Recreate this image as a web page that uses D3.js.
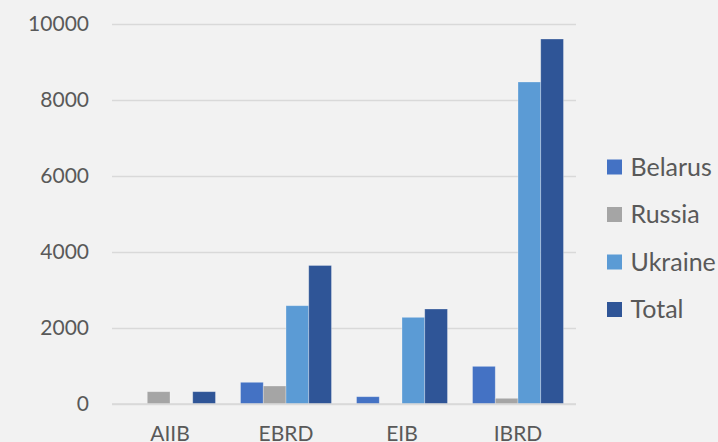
<!DOCTYPE html>
<html><head><meta charset="utf-8">
<script src="https://cdn.jsdelivr.net/npm/d3@7"></script>
<style>html,body{margin:0;padding:0;background:#F2F2F2;overflow:hidden}</style>
</head><body>
<svg id="c" width="718" height="442"></svg>
<script>
const categories = ["AIIB", "EBRD", "EIB", "IBRD"];
const seriesNames = ["Belarus", "Russia", "Ukraine", "Total"];
const belarus = [0, 571, 192, 991];
const russia = [324, 474, 0, 150];
const ukraine = [0, 2587, 2281, 8474];
const total = [324, 3645, 2500, 9605];
const yTicks = [0, 2000, 4000, 6000, 8000, 10000];
const colors = ["#4472C4", "#A5A5A5", "#5B9BD5", "#2F5597"];

const values = [belarus, russia, ukraine, total];
const svg = d3.select("#c");
svg.append("rect").attr("width", 718).attr("height", 442).attr("fill", "#F2F2F2");
const font = "Lato, 'Open Sans', sans-serif";
const mLeft = 112, mRight = 576, mTop = 24, mBottom = 404;

const y = d3.scaleLinear().domain([0, 10000]).range([mBottom, mTop]);
const x0 = d3.scaleBand().domain(categories).range([mLeft, mRight]).paddingInner(0.216).paddingOuter(0.108);
const x1 = d3.scaleBand().domain(seriesNames).range([0, x0.bandwidth()]);

// gridlines
const yAxis = d3.axisLeft(y).tickValues(yTicks).tickSize(-(mRight - mLeft)).tickPadding(23).tickFormat(d3.format("d"));
const ga = svg.append("g").attr("transform", `translate(${mLeft},0)`).call(yAxis);
ga.select(".domain").remove();
ga.selectAll(".tick line").attr("stroke", "#D9D9D9").attr("stroke-width", 1.5);
ga.selectAll(".tick text").attr("fill", "#595959").attr("font-family", font).attr("font-size", 21);

// bars
const groups = svg.append("g").selectAll("g").data(categories).join("g")
  .attr("transform", d => `translate(${x0(d)},0)`);
groups.selectAll("rect").data((c, ci) => seriesNames.map((s, si) => ({s, si, v: values[si][ci]})))
  .join("rect")
  .attr("x", d => x1(d.s))
  .attr("width", x1.bandwidth())
  .attr("y", d => y(d.v))
  .attr("height", d => y(0) - y(d.v))
  .attr("fill", d => colors[d.si])
  .attr("stroke", d => d.v > 0 ? "rgba(255,255,255,0.35)" : "none")
  .attr("stroke-width", 0.8);

// baseline
svg.append("line").attr("x1", mLeft).attr("x2", mRight).attr("y1", y(0)).attr("y2", y(0))
  .attr("stroke", "#D9D9D9").attr("stroke-width", 1.5);

// category labels
const xAxis = d3.axisBottom(x0).tickSize(0).tickPadding(0);
const gx = svg.append("g").attr("transform", `translate(0,${mBottom})`).call(xAxis);
gx.select(".domain").remove();
gx.selectAll(".tick text").attr("y", 37).attr("dy", 0)
  .attr("fill", "#595959").attr("font-family", font).attr("font-size", 21);

// legend
const lg = svg.append("g").selectAll("g").data(seriesNames).join("g")
  .attr("transform", (d, i) => `translate(607,${167 + i * 47.5})`);
lg.append("rect").attr("x", 0).attr("y", -7.5).attr("width", 15).attr("height", 15)
  .attr("fill", (d, i) => colors[i]);
lg.append("text").attr("x", 23.5).attr("y", 0).attr("dy", "0.35em")
  .attr("fill", "#595959").attr("font-family", font).attr("font-size", 25).text(d => d);
</script>
</body></html>
